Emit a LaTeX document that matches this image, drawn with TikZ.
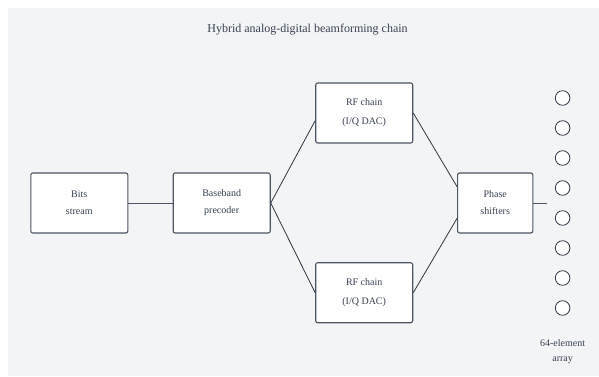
\documentclass[tikz,border=0pt]{standalone}
\usepackage{fontspec}
\setmainfont{Liberation Serif}

\definecolor{pagebg}{HTML}{F3F4F6}
\definecolor{boxline}{HTML}{4B5563}
\definecolor{wire}{HTML}{2F3542}
\definecolor{inktext}{HTML}{374151}

\tikzset{
  blockbox/.style={draw=boxline,line width=1.1pt,fill=white,rounded corners=2,
    minimum width=97pt,minimum height=60pt,inner sep=0,align=center,
    text=inktext,font=\fontsize{10}{17}\selectfont},
  elem/.style={circle,draw=wire,line width=0.8pt,fill=white,minimum size=14.6pt,inner sep=0},
  wireline/.style={wire,line width=0.8pt}
}

\begin{document}
\begin{tikzpicture}[x=1pt,y=-1pt]

\useasboundingbox (0,0) rectangle (599,376);
\fill [white] (0,0) rectangle (599,376);
\fill [pagebg] (8,8) rectangle (599,376);

\node [text=inktext,font=\fontsize{12}{14}\selectfont] (title) at (307.5,30) {Hybrid analog-digital beamforming chain};

\node [blockbox] (bits) at (79.3,203) {Bits\\stream};
\node [blockbox] (precoder) at (221.7,203) {Baseband\\precoder};
\node [blockbox,font=\fontsize{10}{19}\selectfont] (rfa) at (364.2,113) {RF chain\\(I/Q DAC)};
\node [blockbox,font=\fontsize{10}{19}\selectfont] (rfb) at (364.2,292.7) {RF chain\\(I/Q DAC)};
\node [blockbox,minimum width=75.2pt] (phase) at (495.2,203) {Phase\\shifters};

% antenna elements
\foreach \i in {0,...,7}
  \node [elem] (ant\i) at (562.6,98+30*\i) {};

\node [text=inktext,align=center,font=\fontsize{10}{15}\selectfont] (arraylbl) at (562.6,352) {64-element\\array};

\coordinate (feed) at (547.4,203);

\draw [boxline,line width=1pt] (bits.east) -- (precoder.west);
\draw [wireline] (precoder.east) -- ([yshift=-7.7pt]rfa.west);
\draw [wireline] (precoder.east) -- (rfb.west);
\draw [wireline] (rfa.east) -- ([yshift=16.3pt]phase.west);
\draw [wireline] (rfb.east) -- ([yshift=-15.3pt]phase.west);
\draw [boxline,line width=1pt] (phase.east) -- (feed);

\end{tikzpicture}
\end{document}
